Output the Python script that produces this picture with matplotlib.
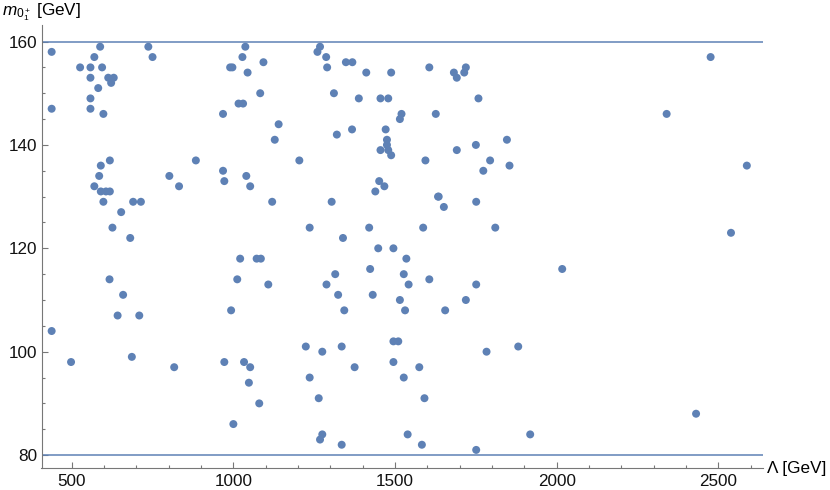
import numpy as np
import matplotlib.pyplot as plt
from matplotlib.ticker import MultipleLocator

# Lambda [GeV] and m_{0_1^+} [GeV]
lam = [438, 588, 737, 750, 570, 526, 558, 594, 558, 613, 630, 622, 582, 558, 438,
       558, 598, 618, 590, 585, 570, 590, 606, 618, 598, 690, 714, 653, 626, 802, 832,
       681, 617, 659, 642, 709, 438, 498, 686, 817,
       1037, 1268, 1260, 1028, 1287, 990, 997, 1290, 1093, 1044, 1083, 1016, 1030, 968,
       1140, 1128, 884, 1204, 968, 972, 1040, 1052, 1120, 1236,
       1021, 1072, 1085, 1012, 1108, 1288, 993, 1224, 1275, 972, 1033, 1052, 1048, 1236,
       1080, 1264, 1000, 1275, 1268,
       1348, 1368, 1411, 1488, 1606, 1311, 1388, 1455, 1479, 1520, 1515, 1626, 1367, 1471,
       1320, 1475, 1475, 1455, 1479, 1488, 1594, 1451, 1467, 1439, 1304, 1633, 1420, 1587,
       1339, 1448, 1495, 1535, 1315, 1423, 1527, 1606, 1542, 1324, 1431, 1515, 1343, 1531,
       1495, 1510, 1335, 1375, 1495, 1575, 1527, 1591, 1335, 1539, 1583,
       1719, 1682, 1714, 1691, 1758, 1846, 1750, 1691, 1794, 1773, 1854, 1635, 1651, 1751,
       1810,
       2017, 1751, 1719, 1655, 1881, 1783, 1918, 1751,
       2476, 2340, 2588, 2539, 2431]
m = [158, 159, 159, 157, 157, 155, 155, 155, 153, 153, 153, 152, 151, 149, 147,
     147, 146, 137, 136, 134, 132, 131, 131, 131, 129, 129, 129, 127, 124, 134, 132,
     122, 114, 111, 107, 107, 104, 98, 99, 97,
     159, 159, 158, 157, 157, 155, 155, 155, 156, 154, 150, 148, 148, 146,
     144, 141, 137, 137, 135, 133, 134, 132, 129, 124,
     118, 118, 118, 114, 113, 113, 108, 101, 100, 98, 98, 97, 94, 95,
     90, 91, 86, 84, 83,
     156, 156, 154, 154, 155, 150, 149, 149, 149, 146, 145, 146, 143, 143,
     142, 141, 140, 139, 139, 138, 137, 133, 132, 131, 129, 130, 124, 124,
     122, 120, 120, 118, 115, 116, 115, 114, 113, 111, 111, 110, 108, 108,
     102, 102, 101, 97, 98, 97, 95, 91, 82, 84, 82,
     155, 154, 154, 153, 149, 141, 140, 139, 137, 135, 136, 130, 128, 129,
     124,
     116, 113, 110, 108, 101, 100, 84, 81,
     157, 146, 136, 123, 88]

cotas = [80, 160]  # lineas horizontales

azul = '#5E81B5'

plt.rcParams['font.family'] = 'Liberation Sans'
plt.rcParams['mathtext.fontset'] = 'custom'
plt.rcParams['mathtext.rm'] = 'Liberation Sans'
plt.rcParams['mathtext.it'] = 'Liberation Sans:italic'

fig = plt.figure(figsize=(8.3, 4.9), dpi=100)
ax = fig.add_axes([41.5/830, 22/490, (763-41.5)/830, (468-25)/490])

for c in cotas:
    ax.axhline(c, color=azul, lw=1.1, zorder=2)
ax.scatter(lam, m, s=33, color=azul, edgecolors='none', zorder=3)

ax.set_xlim(406.6, 2638)
ax.set_ylim(77.5, 163.2)

for s in ['top', 'right']:
    ax.spines[s].set_visible(False)
for s in ['left', 'bottom']:
    ax.spines[s].set_color('#777777')
    ax.spines[s].set_linewidth(0.8)

ax.xaxis.set_major_locator(MultipleLocator(500))
ax.xaxis.set_minor_locator(MultipleLocator(100))
ax.yaxis.set_major_locator(MultipleLocator(20))
ax.yaxis.set_minor_locator(MultipleLocator(5))
ax.tick_params(which='both', direction='in', colors='#777777', labelcolor='#111111',
               labelsize=12.3, width=0.8)
ax.tick_params(which='major', length=4)
ax.tick_params(which='minor', length=2.5)
ax.tick_params(axis='x', pad=4)
ax.tick_params(axis='y', pad=3)

fig.text(41.5/830, 1 - 15/490, r'$m_{0_1^+}$ [GeV]', ha='center', va='baseline',
         fontsize=12.3)
fig.text(767/830, 1 - 468/490, 'Λ [GeV]', ha='left', va='center', fontsize=12.3)

fig.savefig('out.png', dpi=100)
